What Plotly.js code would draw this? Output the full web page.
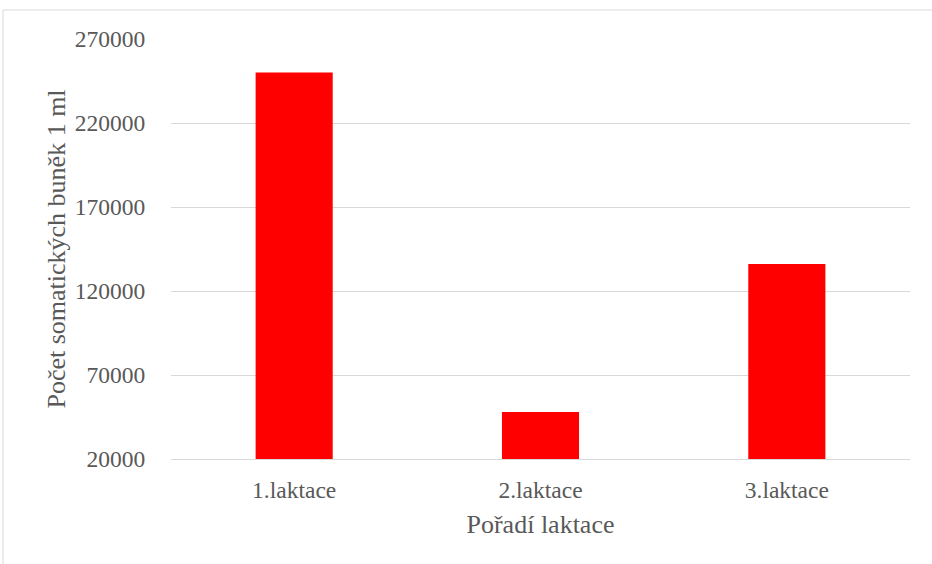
<!DOCTYPE html>
<html>
<head>
<meta charset="utf-8">
<script src="https://cdn.plot.ly/plotly-3.0.1.min.js"></script>
<style>html,body{margin:0;padding:0;background:#fff;}#chart{width:932px;height:564px;}</style>
</head>
<body>
<div id="chart"></div>
<script>
var categories = ["1.laktace", "2.laktace", "3.laktace"];
var values = [250000, 48000, 136000];
var tickValues = [20000, 70000, 120000, 170000, 220000, 270000];

var W = 932, H = 564;
var mL = 171, mR = 22, mT = 39, mB = 105;
var pw = W - mL - mR, ph = H - mT - mB;

var trace = {
  type: 'bar',
  x: categories,
  y: values,
  marker: {color: '#ff0000'},
  hoverinfo: 'x+y'
};

var font = {family: '"Liberation Serif", "Times New Roman", serif', color: '#595959'};

var layout = {
  width: W, height: H,
  margin: {l: mL, r: mR, t: mT, b: mB, pad: 0},
  paper_bgcolor: '#ffffff',
  plot_bgcolor: '#ffffff',
  showlegend: false,
  bargap: 0.687,
  font: font,
  xaxis: {
    type: 'category',
    showgrid: false,
    zeroline: false,
    showline: true,
    linecolor: '#d9d9d9',
    linewidth: 1,
    ticks: 'outside', ticklen: 10, tickcolor: 'rgba(0,0,0,0)',
    tickfont: {family: font.family, size: 23.5, color: '#595959'},
    title: {text: 'Pořadí laktace', font: {family: font.family, size: 26, color: '#595959'}, standoff: 12}
  },
  yaxis: {
    range: [20000, 270000],
    tickvals: tickValues,
    ticktext: tickValues.map(String),
    showgrid: true,
    gridcolor: '#d9d9d9',
    gridwidth: 1,
    zeroline: false,
    showline: false,
    ticks: 'outside', ticklen: 20, tickcolor: 'rgba(0,0,0,0)',
    tickfont: {family: font.family, size: 23.5, color: '#595959'},
    title: {text: 'Počet somatických buněk 1 ml', font: {family: font.family, size: 26, color: '#595959'}, standoff: 1}
  },
  shapes: [{
    type: 'rect', xref: 'paper', yref: 'paper',
    x0: (3 - mL) / pw, x1: (940 - mL) / pw,
    y0: 1 - (570 - mT) / ph, y1: 1 + (mT - 10) / ph,
    line: {color: '#d9d9d9', width: 1},
    fillcolor: 'rgba(0,0,0,0)',
    layer: 'below'
  }]
};

Plotly.newPlot('chart', [trace], layout, {displayModeBar: false, staticPlot: true});
</script>
</body>
</html>
